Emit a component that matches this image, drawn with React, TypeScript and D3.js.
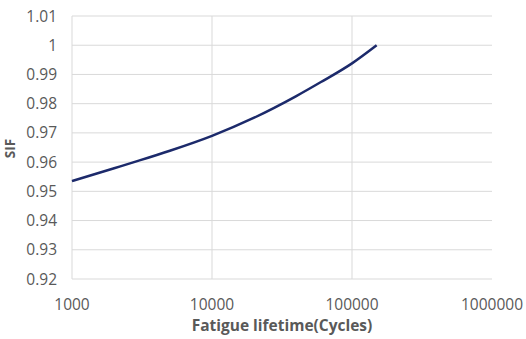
import React from "react";
import * as d3 from "d3";

// values
const cycles = [1000, 2000, 3000, 5000, 10000, 20000, 40000, 60000, 100000, 150000];
const sif = [0.9535, 0.9579, 0.9605, 0.9639, 0.969, 0.9752, 0.9826, 0.9874, 0.9938, 1.0];
const yTicks = [0.92, 0.93, 0.94, 0.95, 0.96, 0.97, 0.98, 0.99, 1, 1.01];
const xTicks = [1000, 10000, 100000, 1000000];

const W = 526;
const H = 339;
const margin = { left: 72, right: 34, top: 16, bottom: 60 };

const App = () => {
  const x = d3
    .scaleLog()
    .domain([1000, 1000000])
    .range([margin.left, W - margin.right]);
  const y = d3
    .scaleLinear()
    .domain([0.92, 1.01])
    .range([H - margin.bottom, margin.top]);

  const pts: [number, number][] = cycles.map((c, i) => [c, sif[i]]);
  const line = d3
    .line<[number, number]>()
    .x((d) => x(d[0]))
    .y((d) => y(d[1]))
    .curve(d3.curveMonotoneX);

  const font = "'Open Sans', sans-serif";

  return (
    <svg
      width={W}
      height={H}
      style={{ position: "absolute", left: 0, top: 0, background: "#fff" }}
    >
      {/* grid */}
      <g stroke="#d9d9d9" strokeWidth={1}>
        {yTicks.map((t) => (
          <line key={t} x1={margin.left} x2={W - margin.right} y1={y(t)} y2={y(t)} />
        ))}
        {xTicks.slice(0, 3).map((t) => (
          <line key={t} x1={x(t)} x2={x(t)} y1={margin.top} y2={H - margin.bottom} />
        ))}
      </g>

      {/* y tick labels */}
      <g fill="#595959" fontFamily={font} fontSize={15.5} textAnchor="end">
        {yTicks.map((t) => (
          <text key={t} x={57} y={y(t)} dy="0.36em">
            {String(t)}
          </text>
        ))}
      </g>

      {/* x tick labels */}
      <g fill="#595959" fontFamily={font} fontSize={15.5} textAnchor="middle">
        {xTicks.map((t) => (
          <text key={t} x={x(t)} y={310}>
            {String(t)}
          </text>
        ))}
      </g>

      <path d={line(pts) || ""} fill="none" stroke="#1c2a6b" strokeWidth={2.5} />

      <text
        x={(margin.left + W - margin.right) / 2}
        y={331}
        textAnchor="middle"
        fontFamily={font}
        fontWeight="bold"
        fontSize={15.5}
        fill="#595959"
      >
        Fatigue lifetime(Cycles)
      </text>
      <text
        transform={`translate(15,${(margin.top + H - margin.bottom) / 2 + 1}) rotate(-90)`}
        textAnchor="middle"
        fontFamily={font}
        fontWeight="bold"
        fontSize={13.5}
        fill="#595959"
      >
        SIF
      </text>
    </svg>
  );
};

export default App;
